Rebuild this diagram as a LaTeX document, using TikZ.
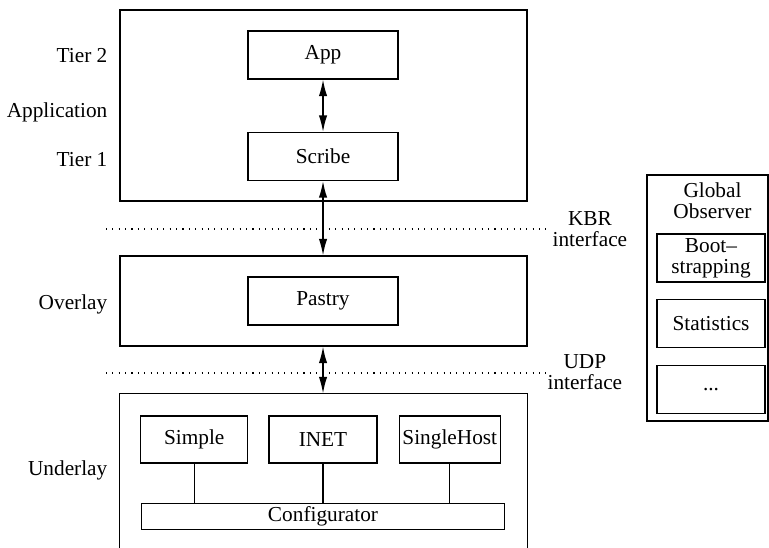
\documentclass[tikz,border=0pt]{standalone}
\usepackage{fontspec}
\setmainfont{Liberation Serif}
\usetikzlibrary{positioning, arrows.meta}

\begin{document}
\begin{tikzpicture}[x=0.016cm, y=-0.016cm, >={Latex[length=7.5pt, width=3.8pt]}, line width=0.6pt,
    font=\fontsize{9.7}{9.4}\selectfont,
    layer/.style={draw, minimum width=6.512cm},
    box/.style={draw, minimum width=2.4cm, minimum height=0.768cm},
    netbox/.style={draw, minimum height=0.752cm, inner xsep=1pt},
    obsbox/.style={draw, align=center, minimum width=1.728cm, minimum height=0.768cm, inner ysep=1pt},
    side/.style={anchor=base east, inner sep=0pt},
    iface/.style={anchor=west, align=center, inner sep=0pt},
    dotline/.style={line width=0.7pt, dash pattern=on 0.5pt off 2.4pt}]
  \useasboundingbox (0,0) rectangle (769,547);

  \node[layer, minimum height=3.056cm] (application) at (323.5,105.5) {};
  \node[box] (app) at (323,55) {App};
  \node[box] (scribe) at (323,156.5) {Scribe};
  \node[layer, minimum height=1.44cm] (overlay) at (323.5,301) {};
  \node[box] (pastry) at (323,301) {Pastry};
  \node[layer, draw=none, minimum height=2.448cm] (underlay) at (323.5,470.5) {};
  \draw (underlay.south west) |- (underlay.north east) -- (underlay.south east);

  \node[netbox, minimum width=1.728cm] (inet) at (323,439.5) {INET};
  \node[netbox, minimum width=1.712cm, left=0.32cm of inet] (simple) {Simple};
  \node[netbox, minimum width=1.616cm, right=0.336cm of inet] (singlehost) {SingleHost};
  \node[draw, minimum width=5.808cm, minimum height=0.416cm, inner ysep=1pt, below=0.624cm of inet] (configurator) {Configurator};
  \draw (simple.south) -- (simple.south |- configurator.north);
  \draw (inet.south) -- (inet.south |- configurator.north);
  \draw (singlehost.south) -- (singlehost.south |- configurator.north);

  \node[side] (tier2) at (108,63) {Tier 2};
  \node[side] (applabel) at (108,117) {Application};
  \node[side] (tier1) at (108,166) {Tier 1};
  \node[side] (overlaylabel) at (108,309) {Overlay};
  \node[side] (underlaylabel) at (108,475) {Underlay};

  \coordinate (kbrL) at (106,229);
  \coordinate (kbrR) at (547,229);
  \coordinate (udpL) at (106,373);
  \coordinate (udpR) at (547,373);
  \draw[dotline] (kbrL) -- (kbrR);
  \draw[dotline] (udpL) -- (udpR);
  \node[iface] (kbr) at (552,229) {KBR\\interface};
  \node[iface] (udp) at (547,372) {UDP\\interface};

  \draw[<->] (app) -- (scribe);
  \draw[<->] (scribe.south) -- (scribe.south |- overlay.north);
  \draw[<->] (pastry.south |- overlay.south) -- (pastry.south |- underlay.north);

  \node[draw, minimum width=1.936cm, minimum height=3.936cm] (observer) at (707.5,298) {};
  \node[align=center, inner sep=0pt] (obstitle) at (712.5,201) {Global\\Observer};
  \node[obsbox] (boot) at (711,258) {Boot--\\strapping};
  \node[obsbox, below=0.256cm of boot] (stats) {Statistics};
  \node[obsbox, below=0.272cm of stats] (more) {...};
\end{tikzpicture}
\end{document}
